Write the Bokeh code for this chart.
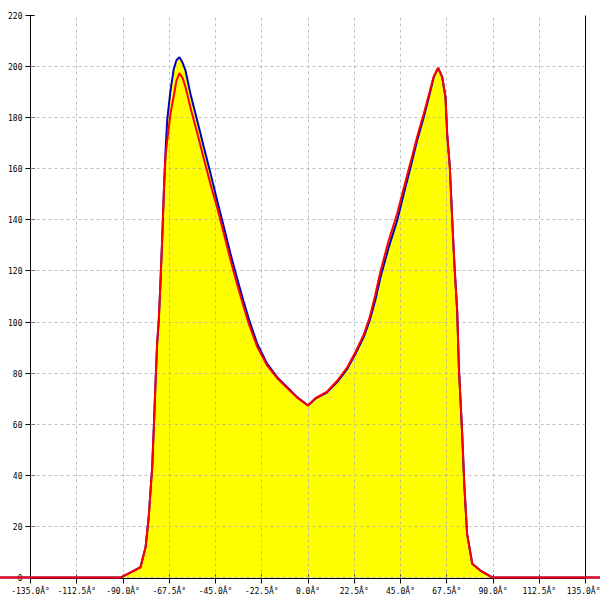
import numpy as np
from bokeh.plotting import figure
from bokeh.models import LinearAxis, FixedTicker, Range1d
from bokeh.embed import file_html
from bokeh.resources import INLINE

# angles in degrees
angles = [-180, -91, -86, -81.5, -79, -77.5, -75.8, -75, -74.2, -73.4, -72.6, -71.8,
          -70.9, -70.1, -69.3, -68.5, -66.9, -65.3, -64, -62.5, -61, -59.6, -57.2,
          -53.9, -50.7, -47.4, -44.2, -40.9, -37.7, -34.4, -31.5, -28.8, -24.7, -19.9,
          -15, -10.1, -5.3, 0, 3.6, 9.3, 14.2, 19.1, 23.1, 27.1, 30.0, 32.7, 35.3,
          39.3, 43.4, 46.6, 49.9, 53.1, 56.3, 58.8, 61.2, 63.3, 65.3, 66.9, 67.7,
          69.0, 70.1, 71.3, 72.6, 73.4, 75.0, 76.1, 77.4, 79.9, 83.9, 89.6, 180]

blue_values = [0, 0, 2.1, 4.0, 11.9, 23.6, 43.2, 58.8, 75.8, 91.5, 100.6, 115,
               133.2, 151.5, 167, 179, 190.6, 199.1, 202.5, 203.7, 201.5, 198.5, 189.4,
               178.9, 168.5, 158.1, 147.6, 137.1, 126.7, 116.8, 108.5, 101.3, 91.5, 83.7,
               78.4, 74.5, 70.6, 67.3, 70.0, 72.5, 76.5, 81.7, 87.6, 94.1, 100.5, 108.4, 117.6,
               129.3, 139.8, 150.2, 160.6, 171.1, 180.2, 188.0, 195.9, 199.5, 195.9, 188.0, 173.7,
               160.6, 141.0, 121.5, 104.0, 82.3, 56.3, 35.3, 17.1, 5.4, 2.7, 0, 0]

red_values = [0, 0, 2.1, 4.0, 11.9, 23.6, 43.2, 58.8, 75.8, 91.5, 100.6, 115,
              133.2, 151.5, 165, 171, 181.5, 188.5, 194.5, 197.4, 195.5, 192, 184,
              174, 164, 153.8, 144.8, 134.5, 124.3, 114.5, 106.5, 99.3, 90.3, 83.0,
              78.0, 74.2, 70.4, 67.3, 70.2, 72.8, 77.0, 82.3, 88.3, 95.0, 101.8, 110.5, 120.0,
              132.0, 142.5, 152.5, 162.5, 172.5, 181.5, 189.0, 196.2, 199.5, 195.9, 188.0, 173.7,
              160.6, 141.0, 121.5, 104.0, 82.3, 56.3, 35.3, 17.1, 5.4, 2.7, 0, 0]

x_ticks = [-135.0, -112.5, -90.0, -67.5, -45.0, -22.5, 0.0, 22.5, 45.0, 67.5, 90.0, 112.5, 135.0]
x_tick_labels = ["-135.0Â°", "-112.5Â°", "-90.0Â°", "-67.5Â°", "-45.0Â°", "-22.5Â°", "0.0Â°",
                 "22.5Â°", "45.0Â°", "67.5Â°", "90.0Â°", "112.5Â°", "135.0Â°"]
y_ticks = [0, 20, 40, 60, 80, 100, 120, 140, 160, 180, 200, 220]

FONT = "DejaVu Sans Mono"

p = figure(width=600, height=600, x_range=Range1d(-135, 135), y_range=Range1d(-0.4, 220),
           output_backend="svg", toolbar_location=None,
           min_border_left=30, min_border_right=15, min_border_top=15, min_border_bottom=22)
p.outline_line_color = None
p.background_fill_color = "white"
p.border_fill_color = "white"

fill_top = np.maximum(np.array(blue_values), np.array(red_values))
p.varea(x=angles, y1=0, y2=fill_top, fill_color="#ffff00")
p.line(angles, blue_values, line_color="#0000c0", line_width=2, level="overlay")
p.line(angles, red_values, line_color="#ff0000", line_width=2, level="overlay")

for ax in (p.xaxis[0], p.yaxis[0]):
    ax.axis_line_color = "black"
    ax.major_tick_line_color = "black"
    ax.minor_tick_line_color = None
    ax.major_tick_in = 4
    ax.major_tick_out = 5
    ax.major_label_text_font = FONT
    ax.major_label_text_font_size = "8px"
    ax.major_label_text_color = "black"

p.xaxis.ticker = FixedTicker(ticks=x_ticks)
p.xaxis.major_label_overrides = {t: l for t, l in zip(x_ticks, x_tick_labels)}
p.xaxis.major_label_standoff = 3
p.yaxis.ticker = FixedTicker(ticks=y_ticks)
p.yaxis.major_label_standoff = 3

right = LinearAxis(ticker=FixedTicker(ticks=[]), axis_line_color="black",
                   major_tick_line_color=None, minor_tick_line_color=None,
                   major_label_text_font_size="0px", major_label_standoff=0)
p.add_layout(right, "right")

for g, t in ((p.xgrid[0], x_ticks), (p.ygrid[0], y_ticks)):
    g.ticker = FixedTicker(ticks=t)
    g.grid_line_color = "#b0b0b0"
    g.grid_line_dash = "3 3"
    g.grid_line_alpha = 0.8
    g.level = "annotation"

open("out.html", "w").write(file_html(p, INLINE))
